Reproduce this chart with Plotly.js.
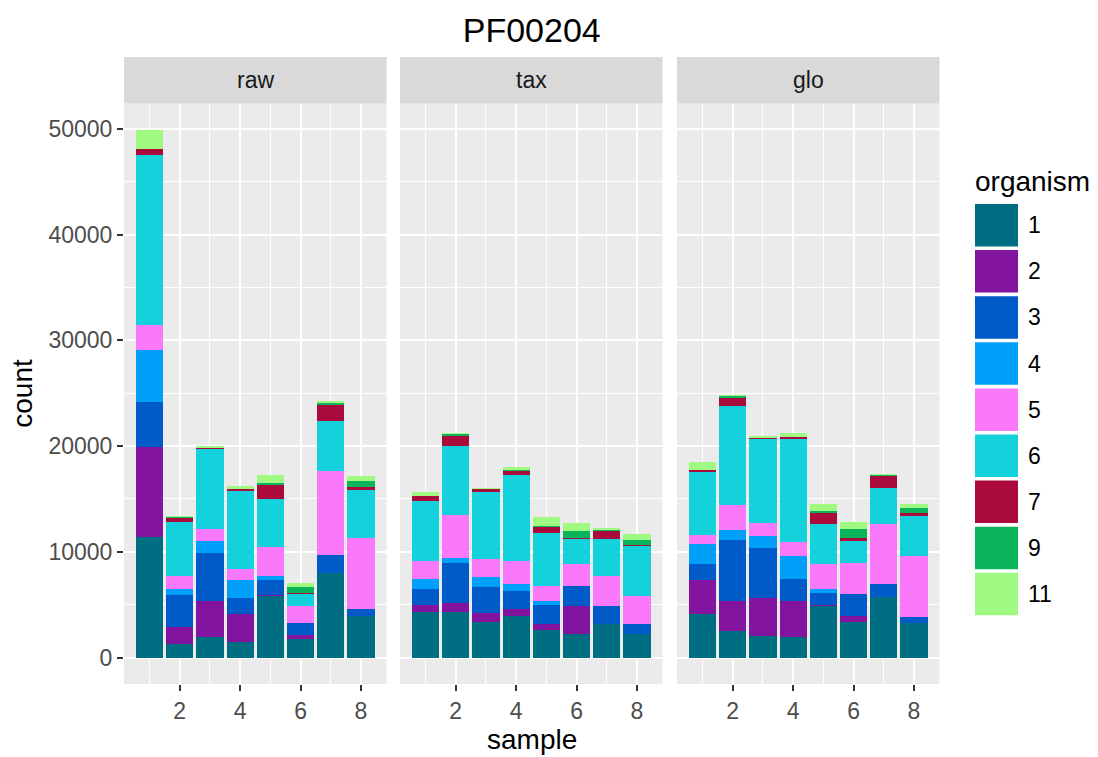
<!DOCTYPE html>
<html>
<head>
<meta charset="utf-8">
<script src="https://cdn.plot.ly/plotly-3.0.1.min.js"></script>
<style>html,body{margin:0;padding:0;background:#fff;}#chart{width:1098px;height:757px;}</style>
</head>
<body>
<div id="chart"></div>
<script>
const samples = [1, 2, 3, 4, 5, 6, 7, 8];
const organisms = ['1', '2', '3', '4', '5', '6', '7', '9', '11'];
const colors = ['#006E82', '#8214A0', '#005AC8', '#00A0FA', '#FA78FA', '#14D2DC', '#AA0A3C', '#0AB45A', '#A0FA82'];
const panels = ['raw', 'tax', 'glo'];
const xTicks = [2, 4, 6, 8];
const yTicks = [0, 10000, 20000, 30000, 40000, 50000];

// rows: organisms 1,2,3,4,5,6,7,9,11 ; columns: samples 1..8
const rawCounts = [
  [11400, 1300, 1940, 1470, 5820, 1750, 7990, 3930],
  [8510, 1580, 3400, 2670, 90, 380, 0, 0],
  [4260, 3030, 4550, 1490, 1420, 1130, 1710, 660],
  [4920, 570, 1130, 1700, 380, 0, 0, 0],
  [2360, 1230, 1140, 1040, 2740, 1610, 7940, 6710],
  [16090, 5110, 7560, 7380, 4540, 1140, 4730, 4550],
  [560, 380, 100, 190, 1330, 90, 1520, 280],
  [0, 50, 0, 0, 190, 570, 190, 570],
  [1800, 100, 190, 280, 750, 380, 180, 470]
];
const taxCounts = [
  [4300, 4300, 3360, 3930, 2600, 2220, 3170, 2220],
  [670, 860, 850, 660, 570, 2650, 0, 0],
  [1510, 3780, 2460, 1700, 1800, 1890, 1700, 950],
  [950, 470, 950, 660, 370, 0, 0, 0],
  [1700, 4070, 1700, 2180, 1420, 2090, 2840, 2650],
  [5670, 6530, 6340, 8130, 5020, 2360, 3500, 4730],
  [480, 940, 280, 380, 570, 90, 760, 90],
  [0, 190, 0, 100, 90, 670, 90, 480],
  [380, 100, 90, 280, 850, 750, 190, 560]
];
const gloCounts = [
  [4120, 2510, 2030, 1940, 4870, 3360, 5720, 3260],
  [3210, 2830, 3600, 3400, 100, 570, 0, 0],
  [1520, 5780, 4730, 2090, 1130, 2080, 1230, 570],
  [1890, 940, 1130, 2170, 380, 0, 0, 0],
  [850, 2370, 1230, 1330, 2370, 2930, 5680, 5770],
  [5960, 9360, 7950, 9740, 3780, 2080, 3400, 3790],
  [190, 760, 90, 190, 1040, 280, 1140, 280],
  [0, 220, 0, 0, 190, 860, 90, 470],
  [750, 60, 190, 380, 660, 660, 100, 380]
];

const W = 1098, H = 757;
const px = v => v / W;
const py = v => 1 - v / H;
const FONT = 'Liberation Sans, Arial, Helvetica, sans-serif';

const panelData = [rawCounts, taxCounts, gloCounts];
const panelLeft = [124, 400, 677];
const panelWidth = 262.5;
const panelTop = 103.5, panelBottom = 684;
const stripTop = 57;

// y range with ggplot-like 5% expansion
let maxTotal = 0;
panelData.forEach(d => {
  samples.forEach((s, j) => {
    let t = 0; d.forEach(row => t += row[j]);
    if (t > maxTotal) maxTotal = t;
  });
});
const yRange = [-0.05 * maxTotal, 1.05 * maxTotal];
const xRange = [0.55 - 0.05 * 7.9, 8.45 + 0.05 * 7.9];

const traces = [];
panelData.forEach((d, p) => {
  const sfx = p === 0 ? '' : String(p + 1);
  organisms.forEach((org, i) => {
    traces.push({
      type: 'bar',
      x: samples,
      y: d[i],
      width: 0.9,
      name: org,
      marker: {color: colors[i], line: {width: 0}},
      xaxis: 'x' + sfx,
      yaxis: 'y' + sfx,
      showlegend: false,
      hoverinfo: 'skip'
    });
  });
});

const layout = {
  width: W, height: H,
  margin: {l: 0, r: 0, t: 0, b: 0},
  paper_bgcolor: '#FFFFFF',
  plot_bgcolor: '#EBEBEB',
  barmode: 'stack',
  bargap: 0,
  hovermode: false,
  font: {family: FONT, color: '#000000'},
  title: {
    text: 'PF00204',
    font: {family: FONT, size: 34, color: '#000000'},
    x: px((panelLeft[0] + panelLeft[2] + panelWidth) / 2), xanchor: 'center', xref: 'paper',
    y: py(30), yanchor: 'middle', yref: 'paper'
  },
  shapes: [],
  annotations: []
};

panelData.forEach((d, p) => {
  const sfx = p === 0 ? '' : String(p + 1);
  const dom = [px(panelLeft[p]), px(panelLeft[p] + panelWidth)];
  layout['xaxis' + sfx] = {
    domain: dom,
    range: xRange,
    anchor: 'y' + sfx,
    tickmode: 'array',
    tickvals: xTicks,
    ticktext: xTicks.map(String),
    ticks: 'outside', ticklen: 6, tickwidth: 2, tickcolor: '#333333',
    tickfont: {family: FONT, size: 23, color: '#4D4D4D'},
    showgrid: true, gridcolor: '#FFFFFF', gridwidth: 2,
    minor: {dtick: 1, tick0: 0, showgrid: true, gridcolor: '#FFFFFF', gridwidth: 1},
    zeroline: false, showline: false, fixedrange: true
  };
  layout['yaxis' + sfx] = {
    domain: [py(panelBottom), py(panelTop)],
    range: yRange,
    anchor: 'x' + sfx,
    tickmode: 'array',
    tickvals: yTicks,
    ticktext: yTicks.map(String),
    showticklabels: p === 0,
    ticks: p === 0 ? 'outside' : '',
    ticklen: 6, tickwidth: 2, tickcolor: '#333333',
    tickfont: {family: FONT, size: 23, color: '#4D4D4D'},
    showgrid: true, gridcolor: '#FFFFFF', gridwidth: 2,
    minor: {dtick: 5000, tick0: 0, showgrid: true, gridcolor: '#FFFFFF', gridwidth: 1},
    zeroline: false, showline: false, fixedrange: true
  };
  // strip
  layout.shapes.push({
    type: 'rect', xref: 'paper', yref: 'paper',
    x0: dom[0], x1: dom[1], y0: py(panelTop), y1: py(stripTop),
    fillcolor: '#D9D9D9', line: {width: 0}, layer: 'below'
  });
  layout.annotations.push({
    text: panels[p], xref: 'paper', yref: 'paper',
    x: (dom[0] + dom[1]) / 2, y: py((stripTop + panelTop) / 2),
    xanchor: 'center', yanchor: 'middle', showarrow: false,
    font: {family: FONT, size: 23, color: '#1A1A1A'}
  });
});

// axis titles
layout.annotations.push({
  text: 'sample', xref: 'paper', yref: 'paper',
  x: px((panelLeft[0] + panelLeft[2] + panelWidth) / 2), y: py(739),
  xanchor: 'center', yanchor: 'middle', showarrow: false,
  font: {family: FONT, size: 28, color: '#000000'}
});
layout.annotations.push({
  text: 'count', xref: 'paper', yref: 'paper',
  x: px(23), y: py((panelTop + panelBottom) / 2),
  xanchor: 'center', yanchor: 'middle', showarrow: false, textangle: -90,
  font: {family: FONT, size: 28, color: '#000000'}
});

// legend (drawn manually to match ggplot key sizes)
const legX = 975, legKeyW = 43, legKeyH = 42.5, legTop = 204, legPitch = 46.1;
layout.annotations.push({
  text: 'organism', xref: 'paper', yref: 'paper',
  x: px(973), y: py(181), xanchor: 'left', yanchor: 'middle', showarrow: false,
  font: {family: FONT, size: 28, color: '#000000'}
});
organisms.forEach((org, i) => {
  const y0 = legTop + i * legPitch;
  layout.shapes.push({
    type: 'rect', xref: 'paper', yref: 'paper',
    x0: px(legX), x1: px(legX + legKeyW), y0: py(y0 + legKeyH), y1: py(y0),
    fillcolor: colors[i], line: {width: 0}
  });
  layout.annotations.push({
    text: org, xref: 'paper', yref: 'paper',
    x: px(1026), y: py(y0 + legKeyH / 2), xanchor: 'left', yanchor: 'middle', showarrow: false,
    font: {family: FONT, size: 23, color: '#000000'}
  });
});

Plotly.newPlot('chart', traces, layout, {displayModeBar: false, staticPlot: true});
</script>
</body>
</html>
